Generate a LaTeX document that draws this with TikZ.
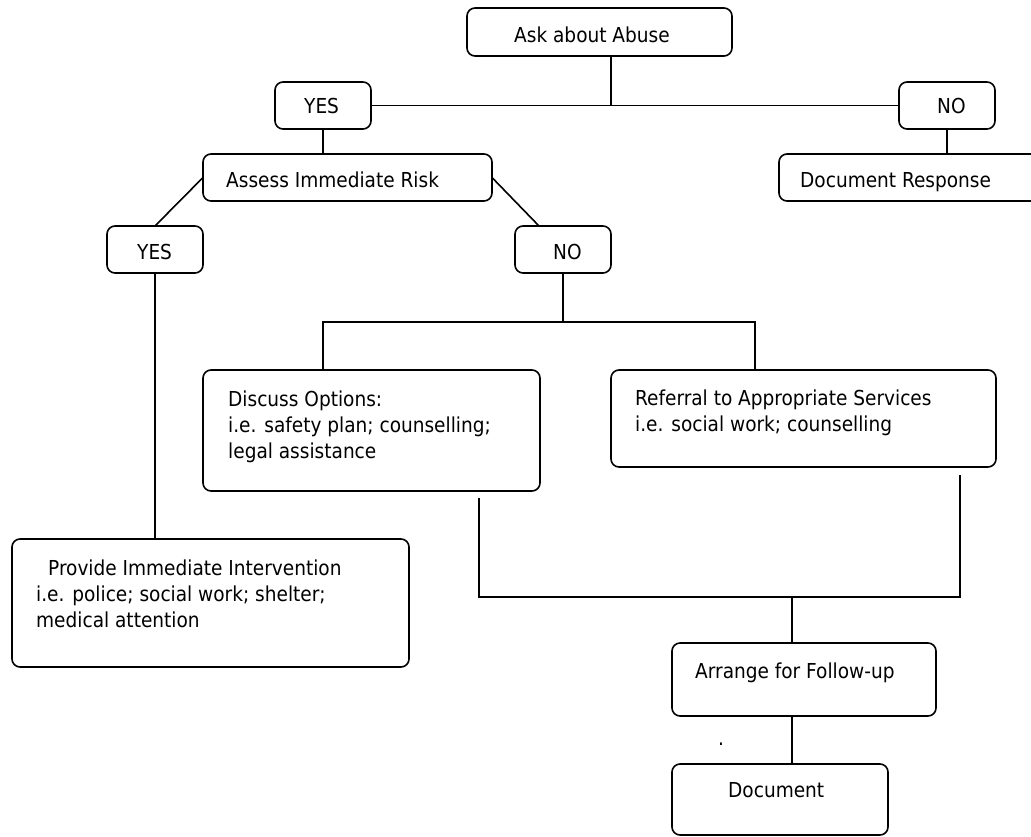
\documentclass[tikz,border=0pt]{standalone}
\usepackage{fontspec}
\setmainfont{DejaVu Sans Condensed}
\usetikzlibrary{calc}
\begin{document}
\begin{tikzpicture}[x=1pt,y=-1pt,
  box/.style={draw, line width=1.6pt, rounded corners=8pt, inner sep=0pt, outer sep=0pt},
  txt/.style={inner sep=0pt, anchor=base west, font=\fontsize{20.6}{26}\selectfont},
  mtxt/.style={inner sep=0pt, anchor=base west, align=left, font=\fontsize{20.6}{26}\selectfont},
  conn/.style={line width=1.6pt}]
\useasboundingbox (0,0) rectangle (1031,836);
% boxes
\node[box, minimum width=265pt, minimum height=48pt] (ask) at (599.5,32) {};
\node[box, minimum width=96pt, minimum height=47pt] (yes1) at (323,105.5) {};
\node[box, minimum width=96pt, minimum height=47pt] (no1) at (947,105.5) {};
\node[box, minimum width=261pt, minimum height=47pt] (docresp) at (909.5,177.5) {};
\node[box, minimum width=289pt, minimum height=47pt] (assess) at (347.5,177.5) {};
\node[box, minimum width=96pt, minimum height=47pt] (yes2) at (155,249.5) {};
\node[box, minimum width=96pt, minimum height=47pt] (no2) at (563,249.5) {};
\node[box, minimum width=337pt, minimum height=121pt] (discuss) at (371.5,430.5) {};
\node[box, minimum width=385pt, minimum height=97pt] (referral) at (803.5,418.5) {};
\node[box, minimum width=397pt, minimum height=128pt] (provide) at (210.5,603) {};
\node[box, minimum width=264pt, minimum height=73pt] (arrange) at (804,679.5) {};
\node[box, minimum width=216pt, minimum height=71pt] (doc) at (780,799.5) {};
% texts (multi-line nodes: base = baseline of last line)
\node[txt] (t-ask) at (514,42) {Ask about Abuse};
\node[txt] (t-yes1) at (304,113) {YES};
\node[txt] (t-no1) at (937,113) {NO};
\node[txt] (t-docresp) at (800,187) {Document Response};
\node[txt] (t-assess) at (226,187) {Assess Immediate Risk};
\node[txt] (t-yes2) at (137,259) {YES};
\node[txt] (t-no2) at (553,259) {NO};
\node[mtxt] (t-discuss) at (228,458) {Discuss Options:\\i.e. safety plan; counselling;\\legal assistance};
\node[mtxt] (t-referral) at (635,431) {Referral to Appropriate Services\\i.e. social work; counselling};
\node[mtxt] (t-provide) at (36,627) {\hspace*{12pt}Provide Immediate Intervention\\i.e. police; social work; shelter;\\medical attention};
\node[txt] (t-arrange) at (695,678) {Arrange for Follow-up};
\node[txt] (t-doc) at (728,797) {Document};
\node[txt] (t-dot) at (718,745) {.};
% junction coordinates
\coordinate (j1) at (611,105.5);
\coordinate (j2) at (563,322);
\coordinate (j2l) at (323,322);
\coordinate (j2r) at (755,322);
\coordinate (b1) at (479,498);
\coordinate (b2) at (960,475);
\coordinate (j3) at (792,597);
% connectors
\draw[conn] (ask.south -| j1) -- (j1);
\draw[conn] (yes1.east) -- (no1.west);
\draw[conn] (yes1.south) -- (yes1.south |- assess.north);
\draw[conn] (no1.south) -- (no1.south |- docresp.north);
\draw[conn] (assess.west) -- (yes2.north);
\draw[conn] (assess.east) -- ($(no2.north west)!0.25!(no2.north east)$);
\draw[conn] (yes2.south) -- (yes2.south |- provide.north);
\draw[conn] (no2.south) -- (j2);
\draw[conn] (j2l |- discuss.north) -- (j2l) -- (j2r) -- (j2r |- referral.north);
\draw[conn] (b1) -- (b1 |- j3) -- (j3 -| b2) -- (b2);
\draw[conn] (j3) -- (j3 |- arrange.north);
\draw[conn] (arrange.south -| j3) -- (doc.north -| j3);
\end{tikzpicture}
\end{document}
